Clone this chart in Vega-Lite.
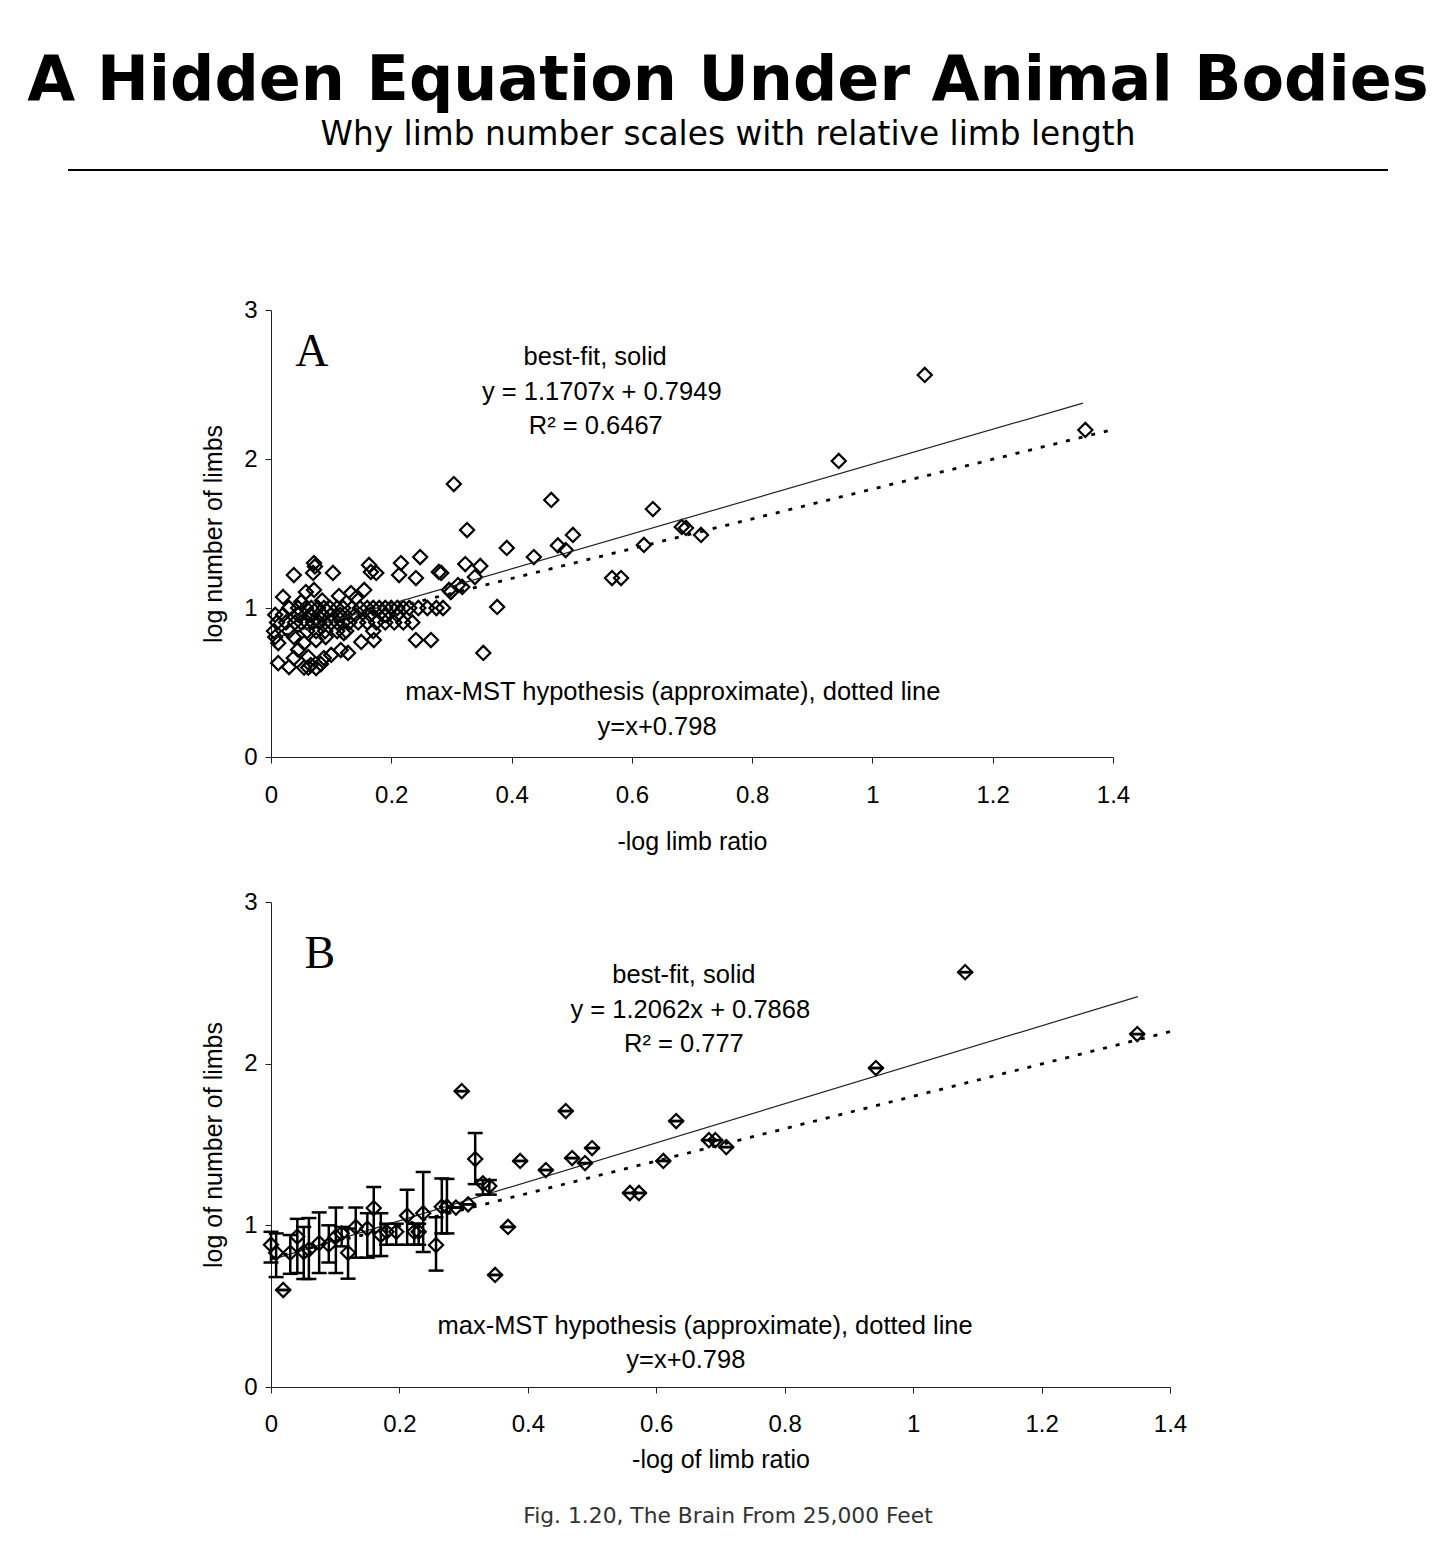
{
  "$schema": "https://vega.github.io/schema/vega-lite/v6.json",
  "padding": {"left": 27, "top": 50, "right": 10, "bottom": 10},
  "background": "white",
  "title": {
    "text": "A Hidden Equation Under Animal Bodies",
    "subtitle": "Why limb number scales with relative limb length",
    "anchor": "middle",
    "font": "DejaVu Sans",
    "fontSize": 62,
    "fontWeight": "bold",
    "color": "#000",
    "subtitleFont": "DejaVu Sans",
    "subtitleFontSize": 32.8,
    "subtitleColor": "#000",
    "subtitlePadding": 6,
    "offset": 16
  },
  "config": {
    "view": {"stroke": null},
    "axis": {
      "grid": false,
      "labelFlush": false,
      "domainColor": "#222",
      "tickColor": "#222",
      "tickSize": 6,
      "labelFont": "Liberation Sans",
      "labelFontSize": 24,
      "labelColor": "#000",
      "titleFont": "Liberation Sans",
      "titleFontSize": 25,
      "titleFontWeight": "normal",
      "titleColor": "#000"
    }
  },
  "datasets": {
    "pointsA": [
      {"x": 1.087, "y": 2.564}, {"x": 1.354, "y": 2.195}, {"x": 0.944, "y": 1.987}, {"x": 0.304, "y": 1.832},
      {"x": 0.466, "y": 1.725}, {"x": 0.635, "y": 1.664}, {"x": 0.326, "y": 1.523}, {"x": 0.683, "y": 1.544},
      {"x": 0.690, "y": 1.537}, {"x": 0.715, "y": 1.49}, {"x": 0.502, "y": 1.49}, {"x": 0.49, "y": 1.389},
      {"x": 0.477, "y": 1.42}, {"x": 0.392, "y": 1.403}, {"x": 0.437, "y": 1.342}, {"x": 0.62, "y": 1.423},
      {"x": 0.567, "y": 1.201}, {"x": 0.582, "y": 1.201}, {"x": 0.353, "y": 0.698}, {"x": 0.376, "y": 1.007},
      {"x": 0.248, "y": 1.342}, {"x": 0.323, "y": 1.295}, {"x": 0.348, "y": 1.282}, {"x": 0.339, "y": 1.208},
      {"x": 0.279, "y": 1.242}, {"x": 0.283, "y": 1.235}, {"x": 0.299, "y": 1.107}, {"x": 0.318, "y": 1.141},
      {"x": 0.311, "y": 1.154}, {"x": 0.286, "y": 1.0}, {"x": 0.241, "y": 0.785}, {"x": 0.266, "y": 0.785},
      {"x": 0.216, "y": 1.302}, {"x": 0.213, "y": 1.221}, {"x": 0.241, "y": 1.201},
      {"x": 0.0715, "y": 1.302}, {"x": 0.07, "y": 1.235}, {"x": 0.038, "y": 1.221}, {"x": 0.103, "y": 1.235},
      {"x": 0.163, "y": 1.289}, {"x": 0.166, "y": 1.242}, {"x": 0.175, "y": 1.235}, {"x": 0.073, "y": 1.279},
      {"x": 0.02, "y": 1.074}, {"x": 0.058, "y": 1.107}, {"x": 0.0715, "y": 1.121}, {"x": 0.05, "y": 1.04},
      {"x": 0.133, "y": 1.1}, {"x": 0.155, "y": 1.121}, {"x": 0.141, "y": 1.067}, {"x": 0.296, "y": 1.121},
      {"x": 0.085, "y": 1.05}, {"x": 0.113, "y": 1.08},
      {"x": 0.03, "y": 1.0}, {"x": 0.045, "y": 1.0}, {"x": 0.058, "y": 1.0}, {"x": 0.067, "y": 1.0},
      {"x": 0.078, "y": 1.0}, {"x": 0.088, "y": 1.0}, {"x": 0.098, "y": 1.0}, {"x": 0.11, "y": 1.0},
      {"x": 0.12, "y": 1.0}, {"x": 0.135, "y": 1.0}, {"x": 0.148, "y": 1.0}, {"x": 0.16, "y": 1.0},
      {"x": 0.17, "y": 1.0}, {"x": 0.18, "y": 1.0}, {"x": 0.19, "y": 1.0}, {"x": 0.2, "y": 1.0},
      {"x": 0.21, "y": 1.0}, {"x": 0.22, "y": 1.0}, {"x": 0.23, "y": 1.0}, {"x": 0.245, "y": 1.0},
      {"x": 0.26, "y": 1.0}, {"x": 0.275, "y": 1.0},
      {"x": 0.007, "y": 0.954}, {"x": 0.02, "y": 0.954}, {"x": 0.045, "y": 0.954}, {"x": 0.065, "y": 0.954},
      {"x": 0.085, "y": 0.954}, {"x": 0.1, "y": 0.954}, {"x": 0.115, "y": 0.954}, {"x": 0.14, "y": 0.954},
      {"x": 0.165, "y": 0.954}, {"x": 0.19, "y": 0.954}, {"x": 0.21, "y": 0.954},
      {"x": 0.01, "y": 0.903}, {"x": 0.025, "y": 0.903}, {"x": 0.04, "y": 0.903}, {"x": 0.05, "y": 0.903},
      {"x": 0.06, "y": 0.903}, {"x": 0.07, "y": 0.903}, {"x": 0.08, "y": 0.903}, {"x": 0.09, "y": 0.903},
      {"x": 0.1, "y": 0.903}, {"x": 0.11, "y": 0.903}, {"x": 0.12, "y": 0.903}, {"x": 0.13, "y": 0.903},
      {"x": 0.145, "y": 0.903}, {"x": 0.16, "y": 0.903}, {"x": 0.175, "y": 0.903}, {"x": 0.19, "y": 0.903},
      {"x": 0.205, "y": 0.903}, {"x": 0.22, "y": 0.903}, {"x": 0.235, "y": 0.903},
      {"x": 0.005, "y": 0.845}, {"x": 0.03, "y": 0.845}, {"x": 0.06, "y": 0.845}, {"x": 0.075, "y": 0.845},
      {"x": 0.09, "y": 0.845}, {"x": 0.11, "y": 0.845}, {"x": 0.125, "y": 0.845}, {"x": 0.17, "y": 0.845},
      {"x": 0.007, "y": 0.805}, {"x": 0.012, "y": 0.765}, {"x": 0.038, "y": 0.805}, {"x": 0.055, "y": 0.765},
      {"x": 0.075, "y": 0.785}, {"x": 0.091, "y": 0.805}, {"x": 0.121, "y": 0.832}, {"x": 0.15, "y": 0.772},
      {"x": 0.171, "y": 0.785},
      {"x": 0.062, "y": 0.671}, {"x": 0.088, "y": 0.664}, {"x": 0.1, "y": 0.685}, {"x": 0.116, "y": 0.718},
      {"x": 0.128, "y": 0.698}, {"x": 0.038, "y": 0.664}, {"x": 0.045, "y": 0.72},
      {"x": 0.012, "y": 0.63}, {"x": 0.03, "y": 0.604}, {"x": 0.066, "y": 0.617}, {"x": 0.075, "y": 0.597},
      {"x": 0.083, "y": 0.624}, {"x": 0.055, "y": 0.6}, {"x": 0.062, "y": 0.6}
    ],
    "pointsB": [
      {"x": 0.0, "y": 0.88, "lo": 0.77, "hi": 0.96},
      {"x": 0.008, "y": 0.83, "lo": 0.68, "hi": 0.95},
      {"x": 0.019, "y": 0.6, "lo": 0.6, "hi": 0.6},
      {"x": 0.03, "y": 0.83, "lo": 0.7, "hi": 0.94},
      {"x": 0.041, "y": 0.93, "lo": 0.705, "hi": 1.04},
      {"x": 0.051, "y": 0.835, "lo": 0.668, "hi": 0.99},
      {"x": 0.059, "y": 0.85, "lo": 0.668, "hi": 1.045},
      {"x": 0.075, "y": 0.89, "lo": 0.705, "hi": 1.08},
      {"x": 0.09, "y": 0.88, "lo": 0.77, "hi": 1.0},
      {"x": 0.101, "y": 0.93, "lo": 0.705, "hi": 1.11},
      {"x": 0.11, "y": 0.95, "lo": 0.87, "hi": 0.99},
      {"x": 0.12, "y": 0.83, "lo": 0.67, "hi": 0.98},
      {"x": 0.132, "y": 0.99, "lo": 0.8, "hi": 1.11},
      {"x": 0.15, "y": 0.98, "lo": 0.8, "hi": 1.075},
      {"x": 0.16, "y": 1.107, "lo": 0.81, "hi": 1.237},
      {"x": 0.171, "y": 0.94, "lo": 0.81, "hi": 1.075},
      {"x": 0.18, "y": 0.96, "lo": 0.88, "hi": 1.01},
      {"x": 0.195, "y": 0.96, "lo": 0.88, "hi": 1.01},
      {"x": 0.212, "y": 1.06, "lo": 0.88, "hi": 1.22},
      {"x": 0.223, "y": 0.96, "lo": 0.88, "hi": 1.01},
      {"x": 0.23, "y": 0.96, "lo": 0.88, "hi": 1.01},
      {"x": 0.237, "y": 1.075, "lo": 0.835, "hi": 1.33},
      {"x": 0.257, "y": 0.878, "lo": 0.72, "hi": 1.05},
      {"x": 0.266, "y": 1.115, "lo": 0.95, "hi": 1.29},
      {"x": 0.274, "y": 1.115, "lo": 0.95, "hi": 1.287},
      {"x": 0.288, "y": 1.11, "lo": 1.11, "hi": 1.11},
      {"x": 0.307, "y": 1.13, "lo": 1.13, "hi": 1.13},
      {"x": 0.297, "y": 1.83, "lo": 1.83, "hi": 1.83},
      {"x": 0.318, "y": 1.41, "lo": 1.255, "hi": 1.571},
      {"x": 0.33, "y": 1.26, "lo": 1.19, "hi": 1.28},
      {"x": 0.34, "y": 1.243, "lo": 1.19, "hi": 1.28},
      {"x": 0.349, "y": 0.693, "lo": 0.693, "hi": 0.693},
      {"x": 0.369, "y": 0.99, "lo": 0.99, "hi": 0.99},
      {"x": 0.388, "y": 1.398, "lo": 1.398, "hi": 1.398},
      {"x": 0.428, "y": 1.342, "lo": 1.342, "hi": 1.342},
      {"x": 0.459, "y": 1.707, "lo": 1.707, "hi": 1.707},
      {"x": 0.469, "y": 1.416, "lo": 1.416, "hi": 1.416},
      {"x": 0.489, "y": 1.385, "lo": 1.385, "hi": 1.385},
      {"x": 0.5, "y": 1.478, "lo": 1.478, "hi": 1.478},
      {"x": 0.559, "y": 1.2, "lo": 1.2, "hi": 1.2},
      {"x": 0.573, "y": 1.2, "lo": 1.2, "hi": 1.2},
      {"x": 0.611, "y": 1.398, "lo": 1.398, "hi": 1.398},
      {"x": 0.631, "y": 1.645, "lo": 1.645, "hi": 1.645},
      {"x": 0.682, "y": 1.527, "lo": 1.527, "hi": 1.527},
      {"x": 0.692, "y": 1.527, "lo": 1.527, "hi": 1.527},
      {"x": 0.709, "y": 1.484, "lo": 1.484, "hi": 1.484},
      {"x": 0.942, "y": 1.973, "lo": 1.973, "hi": 1.973},
      {"x": 1.081, "y": 2.566, "lo": 2.566, "hi": 2.566},
      {"x": 1.349, "y": 2.183, "lo": 2.183, "hi": 2.183}
    ],
    "linesA": [
      {"series": "best-fit", "x": 0, "y": 0.7949},
      {"series": "best-fit", "x": 1.35, "y": 2.375},
      {"series": "max-MST", "x": 0, "y": 0.798},
      {"series": "max-MST", "x": 1.4, "y": 2.198}
    ],
    "linesB": [
      {"series": "best-fit", "x": 0, "y": 0.7868},
      {"series": "best-fit", "x": 1.35, "y": 2.415},
      {"series": "max-MST", "x": 0, "y": 0.798},
      {"series": "max-MST", "x": 1.4, "y": 2.198}
    ],
    "notesA": [
      {"role": "panel", "label": "A", "x": 0.068, "y": 2.72},
      {"role": "note", "label": "best-fit, solid", "x": 0.539, "y": 2.685},
      {"role": "note", "label": "y = 1.1707x + 0.7949", "x": 0.55, "y": 2.45},
      {"role": "note", "label": "R² = 0.6467", "x": 0.54, "y": 2.22},
      {"role": "note", "label": "max-MST hypothesis (approximate), dotted line", "x": 0.668, "y": 0.436},
      {"role": "note", "label": "y=x+0.798", "x": 0.642, "y": 0.2}
    ],
    "notesB": [
      {"role": "panel", "label": "B", "x": 0.076, "y": 2.68},
      {"role": "note", "label": "best-fit, solid", "x": 0.643, "y": 2.55},
      {"role": "note", "label": "y = 1.2062x + 0.7868", "x": 0.653, "y": 2.33},
      {"role": "note", "label": "R² = 0.777", "x": 0.643, "y": 2.12},
      {"role": "note", "label": "max-MST hypothesis (approximate), dotted line", "x": 0.676, "y": 0.377},
      {"role": "note", "label": "y=x+0.798", "x": 0.646, "y": 0.167}
    ]
  },
  "spacing": 32,
  "vconcat": [
    {
      "width": 1320,
      "height": 96,
      "data": {"values": [{"part": "divider"}]},
      "mark": {"type": "rule", "color": "#000", "strokeWidth": 2},
      "encoding": {
        "x": {"datum": 0, "type": "quantitative", "scale": {"domain": [0, 1]}, "axis": null},
        "x2": {"datum": 1},
        "y": {"datum": 1, "type": "quantitative", "scale": {"domain": [0, 1]}, "axis": null}
      }
    },
    {
      "spacing": 0,
      "hconcat": [
        {
          "width": 133,
          "height": 1,
          "data": {"values": []},
          "mark": "point",
          "encoding": {}
        },
        {
          "spacing": 36,
          "vconcat": [
            {
              "width": 842,
              "height": 447,
              "encoding": {
                "x": {
                  "field": "x", "type": "quantitative",
                  "scale": {"domain": [0, 1.4], "nice": false, "zero": false},
                  "axis": {"values": [0, 0.2, 0.4, 0.6, 0.8, 1, 1.2, 1.4], "format": "~g", "title": "-log limb ratio", "labelPadding": 20, "titlePadding": 22}
                },
                "y": {
                  "field": "y", "type": "quantitative",
                  "scale": {"domain": [0, 3], "nice": false},
                  "axis": {"values": [0, 1, 2, 3], "title": "log number of limbs", "labelPadding": 8, "titlePadding": 17}
                }
              },
              "layer": [
                {
                  "data": {"name": "pointsA"},
                  "mark": {"type": "point", "shape": "diamond", "filled": false, "color": "#000", "strokeWidth": 2.2, "size": 200, "opacity": 1, "clip": false}
                },
                {
                  "data": {"name": "linesA"},
                  "transform": [{"filter": "datum.series === 'best-fit'"}],
                  "mark": {"type": "line", "color": "#222", "strokeWidth": 1.2}
                },
                {
                  "data": {"name": "linesA"},
                  "transform": [{"filter": "datum.series === 'max-MST'"}],
                  "mark": {"type": "line", "color": "#000", "strokeWidth": 2.8, "strokeDash": [4, 9]}
                },
                {
                  "data": {"name": "notesA"},
                  "transform": [{"filter": "datum.role === 'note'"}],
                  "mark": {"type": "text", "font": "Liberation Sans", "fontSize": 25.5, "color": "#000", "align": "center", "baseline": "middle"},
                  "encoding": {"text": {"field": "label"}}
                },
                {
                  "data": {"name": "notesA"},
                  "transform": [{"filter": "datum.role === 'panel'"}],
                  "mark": {"type": "text", "font": "Liberation Serif", "fontSize": 46, "color": "#000", "align": "center", "baseline": "middle"},
                  "encoding": {"text": {"field": "label"}}
                }
              ]
            },
            {
              "width": 899,
              "height": 485,
              "encoding": {
                "x": {
                  "field": "x", "type": "quantitative",
                  "scale": {"domain": [0, 1.4], "nice": false, "zero": false},
                  "axis": {"values": [0, 0.2, 0.4, 0.6, 0.8, 1, 1.2, 1.4], "format": "~g", "title": "-log of limb ratio", "labelPadding": 19, "titlePadding": 11}
                },
                "y": {
                  "field": "y", "type": "quantitative",
                  "scale": {"domain": [0, 3], "nice": false},
                  "axis": {"values": [0, 1, 2, 3], "title": "log of number of limbs", "labelPadding": 8, "titlePadding": 17}
                }
              },
              "layer": [
                {
                  "data": {"name": "linesB"},
                  "transform": [{"filter": "datum.series === 'best-fit'"}],
                  "mark": {"type": "line", "color": "#222", "strokeWidth": 1.2}
                },
                {
                  "data": {"name": "linesB"},
                  "transform": [{"filter": "datum.series === 'max-MST'"}],
                  "mark": {"type": "line", "color": "#000", "strokeWidth": 2.8, "strokeDash": [4, 9]}
                },
                {
                  "data": {"name": "pointsB"},
                  "mark": {"type": "rule", "color": "#000", "strokeWidth": 2.5},
                  "encoding": {"y": {"field": "lo", "type": "quantitative"}, "y2": {"field": "hi"}}
                },
                {
                  "data": {"name": "pointsB"},
                  "mark": {"type": "tick", "orient": "horizontal", "color": "#000", "size": 15, "thickness": 2.5, "opacity": 1},
                  "encoding": {"y": {"field": "lo", "type": "quantitative"}}
                },
                {
                  "data": {"name": "pointsB"},
                  "mark": {"type": "tick", "orient": "horizontal", "color": "#000", "size": 15, "thickness": 2.5, "opacity": 1},
                  "encoding": {"y": {"field": "hi", "type": "quantitative"}}
                },
                {
                  "data": {"name": "pointsB"},
                  "mark": {"type": "point", "shape": "diamond", "filled": false, "color": "#000", "strokeWidth": 2.2, "size": 200, "opacity": 1, "clip": false}
                },
                {
                  "data": {"name": "notesB"},
                  "transform": [{"filter": "datum.role === 'note'"}],
                  "mark": {"type": "text", "font": "Liberation Sans", "fontSize": 25.5, "color": "#000", "align": "center", "baseline": "middle"},
                  "encoding": {"text": {"field": "label"}}
                },
                {
                  "data": {"name": "notesB"},
                  "transform": [{"filter": "datum.role === 'panel'"}],
                  "mark": {"type": "text", "font": "Liberation Serif", "fontSize": 46, "color": "#000", "align": "center", "baseline": "middle"},
                  "encoding": {"text": {"field": "label"}}
                }
              ]
            }
          ]
        }
      ]
    },
    {
      "width": 1320,
      "height": 24,
      "data": {"values": [{"caption": "Fig. 1.20, The Brain From 25,000 Feet"}]},
      "mark": {"type": "text", "font": "DejaVu Sans", "fontSize": 21.8, "color": "#333", "align": "center", "baseline": "middle"},
      "encoding": {
        "x": {"datum": 0.5, "type": "quantitative", "scale": {"domain": [0, 1]}, "axis": null},
        "text": {"field": "caption"}
      }
    }
  ]
}
